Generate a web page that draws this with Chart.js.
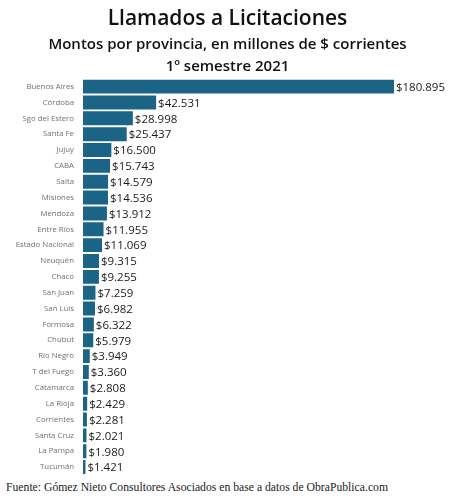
<!DOCTYPE html>
<html>
<head>
<meta charset="utf-8">
<script src="https://cdn.jsdelivr.net/npm/chart.js@4"></script>
<style>
  body { margin: 0; background: #fff; }
  #wrap { position: relative; width: 455px; height: 481px; }
  #fuente {
    position: absolute; left: 6px; top: 481px;
    font-family: "Liberation Serif", serif; font-size: 11.7px; color: #222;
  }
</style>
</head>
<body>
<div id="wrap"><canvas id="myChart"></canvas></div>
<div id="fuente">Fuente: Gómez Nieto Consultores Asociados en base a datos de ObraPublica.com</div>
<script>
// provinces and amounts (millones de $)
let provincias = ["Buenos Aires", "Córdoba", "Sgo del Estero", "Santa Fe", "Jujuy", "CABA", "Salta",
    "Misiones", "Mendoza", "Entre Ríos", "Estado Nacional", "Neuquén", "Chaco", "San Juan", "San Luis",
    "Formosa", "Chubut", "Río Negro", "T del Fuego", "Catamarca", "La Rioja", "Corrientes",
    "Santa Cruz", "La Pampa", "Tucumán"];
let montos = [180895, 42531, 28998, 25437, 16500, 15743, 14579, 14536, 13912, 11955, 11069, 9315,
    9255, 7259, 6982, 6322, 5979, 3949, 3360, 2808, 2429, 2281, 2021, 1980, 1421];

let barColor = "#1b6485";

// 180895 -> "$180.895"
function formatMonto(n){
    return "$" + String(n).replace(/\B(?=(\d{3})+(?!\d))/g, ".");
}

// draws the value at the end of each bar
const valueLabels = {
    id: 'valueLabels',
    afterDatasetsDraw(chart){
        let ctx = chart.ctx;
        let meta = chart.getDatasetMeta(0);
        ctx.save();
        ctx.font = '11.5px "Open Sans"';
        ctx.fillStyle = '#1a1a1a';
        ctx.textBaseline = 'middle';
        ctx.textAlign = 'left';
        meta.data.forEach((bar, i) => {
            ctx.fillText(formatMonto(montos[i]), bar.x + 2, bar.y + 1);
        });
        ctx.restore();
    }
}

let ctx = document.getElementById('myChart').getContext('2d');
let myChart = new Chart(ctx, {
    type: 'bar',
    data: {
        labels: provincias,
        datasets: [{
            data: montos,
            backgroundColor: barColor,
            barPercentage: 0.88,
            categoryPercentage: 1
        }]
    },
    options: {
        indexAxis: 'y',
        responsive: true,
        maintainAspectRatio: false,
        animation: false,
        layout: { padding: { left: 0, right: 0, top: 0, bottom: 6 } },
        plugins: {
            legend: { display: false },
            tooltip: { enabled: false },
            title: {
                display: true,
                text: 'Llamados a Licitaciones',
                color: '#111',
                font: { family: 'Open Sans', size: 21, weight: '600' },
                padding: { top: 6, bottom: 3 }
            },
            subtitle: {
                display: true,
                text: ['Montos por provincia, en millones de $ corrientes', '1º semestre 2021'],
                color: '#111',
                font: { family: 'Open Sans', size: 15, weight: '600', lineHeight: 1.45 },
                padding: { top: 0, bottom: 1 }
            }
        },
        scales: {
            x: {
                display: false,
                min: 0,
                max: 216400 // leaves room on the right for the value labels
            },
            y: {
                grid: { display: false },
                border: { display: false },
                ticks: {
                    color: '#707070',
                    font: { family: 'Open Sans', size: 7.8 },
                    padding: 1,
                    autoSkip: false
                },
                afterFit: (scale) => { scale.width = 83; }
            }
        }
    },
    plugins: [valueLabels]
});
</script>
</body>
</html>
